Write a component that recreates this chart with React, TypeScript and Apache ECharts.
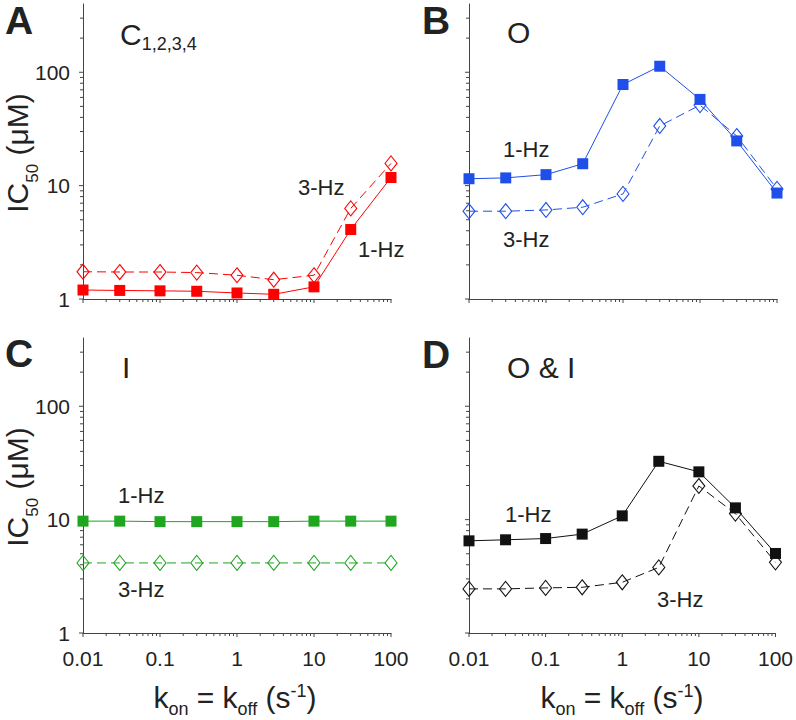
import React, { useEffect, useRef } from 'react';
import * as echarts from 'echarts';

// ---- data ----
const kValues = [0.01, 0.03, 0.1, 0.3, 1, 3, 10, 30, 100];
const xTickLabels = ['0.01', '0.1', '1', '10', '100'];
const yTickLabels = ['1', '10', '100'];
const xMajorTicks = [0.01, 0.1, 1, 10, 100];
const xMinorTicks = [0.02, 0.03, 0.04, 0.05, 0.06, 0.07, 0.08, 0.09, 0.2, 0.3, 0.4, 0.5, 0.6, 0.7, 0.8, 0.9, 2, 3, 4, 5, 6, 7, 8, 9, 20, 30, 40, 50, 60, 70, 80, 90];
const yMajorTicks = [1, 10, 100];
const yMinorTicks = [2, 3, 4, 5, 6, 7, 8, 9, 20, 30, 40, 50, 60, 70, 80, 90, 200, 300];

const closed1Hz = [1.2, 1.19, 1.18, 1.17, 1.13, 1.1, 1.28, 4.1, 11.8];
const closed3Hz = [1.74, 1.73, 1.73, 1.71, 1.62, 1.48, 1.62, 6.3, 15.7];
const open1Hz = [11.5, 11.7, 12.5, 15.6, 78, 113, 57.6, 24.8, 8.6];
const open3Hz = [5.95, 5.95, 6.1, 6.45, 8.45, 33.6, 51.3, 27.4, 9.35];
const inact1Hz = [9.7, 9.7, 9.6, 9.6, 9.6, 9.6, 9.7, 9.7, 9.7];
const inact3Hz = [4.15, 4.15, 4.15, 4.15, 4.15, 4.15, 4.15, 4.15, 4.15];
const oi1Hz = [6.5, 6.64, 6.81, 7.45, 10.8, 32.7, 26.4, 12.7, 5.03];
const oi3Hz = [2.45, 2.45, 2.5, 2.53, 2.8, 3.79, 19.8, 11.3, 4.2];

const panelLetters = ['A', 'B', 'C', 'D'];
const panelColors = ['#ff0000', '#1f4fe8', '#1fa51f', '#111111'];
const panel1Hz = [closed1Hz, open1Hz, inact1Hz, oi1Hz];
const panel3Hz = [closed3Hz, open3Hz, inact3Hz, oi3Hz];

const FONT = 'Arial';
const TXT = '#222';
const AX = '#444';

const grids = [
  { left: 83, top: 4, width: 308, height: 295 },
  { left: 469, top: 4, width: 308, height: 295 },
  { left: 83, top: 338, width: 308, height: 295 },
  { left: 469, top: 338, width: 308, height: 295 },
];

function tickSeries(g: number, kind: 'x' | 'y', values: number[], len: number) {
  return {
    type: 'custom',
    xAxisIndex: g,
    yAxisIndex: g,
    silent: true,
    clip: false,
    z: 1,
    data: values.map((v) => (kind === 'x' ? [v, 1, len] : [0.01, v, len])),
    renderItem: (params: any, api: any) => {
      const p = api.coord([api.value(0), api.value(1)]);
      const l = api.value(2);
      const shape =
        kind === 'x'
          ? { x1: p[0], y1: p[1], x2: p[0], y2: p[1] + l }
          : { x1: p[0] - l, y1: p[1], x2: p[0], y2: p[1] };
      return { type: 'line', shape, style: { stroke: AX, lineWidth: 1 } };
    },
  };
}

export default function App() {
  const ref = useRef<HTMLDivElement>(null);
  useEffect(() => {
    if (!ref.current) return;
    const chart = echarts.init(ref.current, undefined, { renderer: 'svg' });

    const xAxes = grids.map((_, g) => ({
      type: 'log',
      logBase: 10,
      gridIndex: g,
      min: 0.01,
      max: 100,
      axisLine: { show: true, onZero: false, lineStyle: { color: AX, width: 1 } },
      axisTick: { show: false },
      splitLine: { show: false },
      minorTick: { show: false },
      axisLabel: {
        show: g >= 2,
        fontSize: 21,
        fontFamily: FONT,
        color: TXT,
        margin: 15,
        formatter: (v: number) => {
          const i = xMajorTicks.findIndex((t) => Math.abs(t - v) / t < 1e-6);
          return i >= 0 ? xTickLabels[i] : '';
        },
      },
    }));
    const yAxes = grids.map((_, g) => ({
      type: 'log',
      logBase: 10,
      gridIndex: g,
      min: 1,
      max: 400,
      axisLine: { show: true, onZero: false, lineStyle: { color: AX, width: 1 } },
      axisTick: { show: false },
      splitLine: { show: false },
      axisLabel: {
        show: g % 2 === 0,
        fontSize: 21,
        fontFamily: FONT,
        color: TXT,
        margin: 13,
        formatter: (v: number) => {
          const i = yMajorTicks.findIndex((t) => Math.abs(t - v) / t < 1e-6);
          return i >= 0 ? yTickLabels[i] : '';
        },
      },
    }));

    const series: any[] = [];
    grids.forEach((_, g) => {
      series.push(tickSeries(g, 'x', xMajorTicks, 4));
      series.push(tickSeries(g, 'x', xMinorTicks, 3));
      series.push(tickSeries(g, 'y', yMajorTicks, 4));
      series.push(tickSeries(g, 'y', yMinorTicks, 3));
      const c = panelColors[g];
      series.push({
        type: 'line',
        name: '3-Hz',
        xAxisIndex: g,
        yAxisIndex: g,
        silent: true,
        data: kValues.map((k, i) => [k, panel3Hz[g][i]]),
        symbol: 'diamond',
        symbolSize: [12, 15],
        showAllSymbol: true,
        lineStyle: { color: c, width: 1, type: [9, 5] },
        itemStyle: { color: 'rgba(255,255,255,0)', borderColor: c, borderWidth: 1.1 },
        z: 3,
      });
      series.push({
        type: 'line',
        name: '1-Hz',
        xAxisIndex: g,
        yAxisIndex: g,
        silent: true,
        data: kValues.map((k, i) => [k, panel1Hz[g][i]]),
        symbol: 'rect',
        symbolSize: 11,
        showAllSymbol: true,
        lineStyle: { color: c, width: 1 },
        itemStyle: { color: c },
        z: 4,
      });
    });

    const plain = (text: string, x: number, y: number, size: number, bold = false) => ({
      type: 'text',
      x,
      y,
      silent: true,
      style: {
        text,
        fill: TXT,
        fontSize: size,
        fontFamily: FONT,
        fontWeight: bold ? 'bold' : 'normal',
        lineHeight: Math.round(size * 0.8),
        align: 'left',
        verticalAlign: 'middle',
      },
    });

    const xTitle = (cx: number) => ({
      type: 'text',
      x: cx,
      y: 680.6,
      silent: true,
      style: {
        text: '{m|k}{s|on}{m| = k}{s|off}{m| (s}{p|-1}{m|)}',
        align: 'center',
        verticalAlign: 'top',
        fill: TXT,
        fontFamily: FONT,
        rich: {
          m: { fontSize: 30, fontFamily: FONT, fill: TXT, lineHeight: 34, height: 34, verticalAlign: 'top' },
          s: { fontSize: 18, fontFamily: FONT, fill: TXT, lineHeight: 34, height: 11, verticalAlign: 'bottom' },
          p: { fontSize: 18, fontFamily: FONT, fill: TXT, lineHeight: 20, height: 20, verticalAlign: 'top' },
        },
      },
    });

    const yTitle = (cy: number) => ({
      type: 'text',
      x: 7,
      y: cy,
      rotation: Math.PI / 2,
      silent: true,
      style: {
        text: '{m|IC}{s|50}{m| (μM)}',
        align: 'center',
        verticalAlign: 'top',
        fill: TXT,
        fontFamily: FONT,
        rich: {
          m: { fontSize: 30, fontFamily: FONT, fill: TXT, lineHeight: 20, height: 20, verticalAlign: 'top' },
          s: { fontSize: 17, fontFamily: FONT, fill: TXT, lineHeight: 50, height: 50, verticalAlign: 'top' },
        },
      },
    });

    const graphic: any[] = [
      plain(panelLetters[0], 5, 20, 39, true),
      plain(panelLetters[1], 422, 20, 39, true),
      plain(panelLetters[2], 5, 353.5, 39, true),
      plain(panelLetters[3], 422, 354.5, 39, true),
      {
        type: 'text',
        x: 120,
        y: 17.6,
        silent: true,
        style: {
          text: '{m|C}{s|1,2,3,4}',
          align: 'left',
          verticalAlign: 'top',
          fill: TXT,
          fontFamily: FONT,
          rich: {
            m: { fontSize: 30, fontFamily: FONT, fill: TXT, lineHeight: 34, height: 34, verticalAlign: 'top' },
            s: { fontSize: 18, fontFamily: FONT, fill: TXT, lineHeight: 52, height: 52, verticalAlign: 'top' },
          },
        },
      },
      plain('O', 507, 32.6, 30),
      plain('I', 122, 367.6, 30),
      plain('O & I', 507, 367.6, 30),
      plain('3-Hz', 298, 187.4, 22),
      plain('1-Hz', 358, 249.4, 22),
      plain('1-Hz', 503, 149.4, 22),
      plain('3-Hz', 503, 239.4, 22),
      plain('1-Hz', 118, 495.4, 22),
      plain('3-Hz', 118, 589.4, 22),
      plain('1-Hz', 505, 514.4, 22),
      plain('3-Hz', 657, 599.4, 22),
      xTitle(235),
      xTitle(622),
      yTitle(153),
      yTitle(487),
    ];

    chart.setOption({
      animation: false,
      backgroundColor: '#ffffff',
      grid: grids.map((g) => ({ ...g, containLabel: false })),
      xAxis: xAxes,
      yAxis: yAxes,
      series,
      graphic,
    });
    return () => chart.dispose();
  }, []);

  return (
    <div
      ref={ref}
      style={{ position: 'absolute', left: 0, top: 0, width: 796, height: 720, background: '#fff' }}
    />
  );
}
